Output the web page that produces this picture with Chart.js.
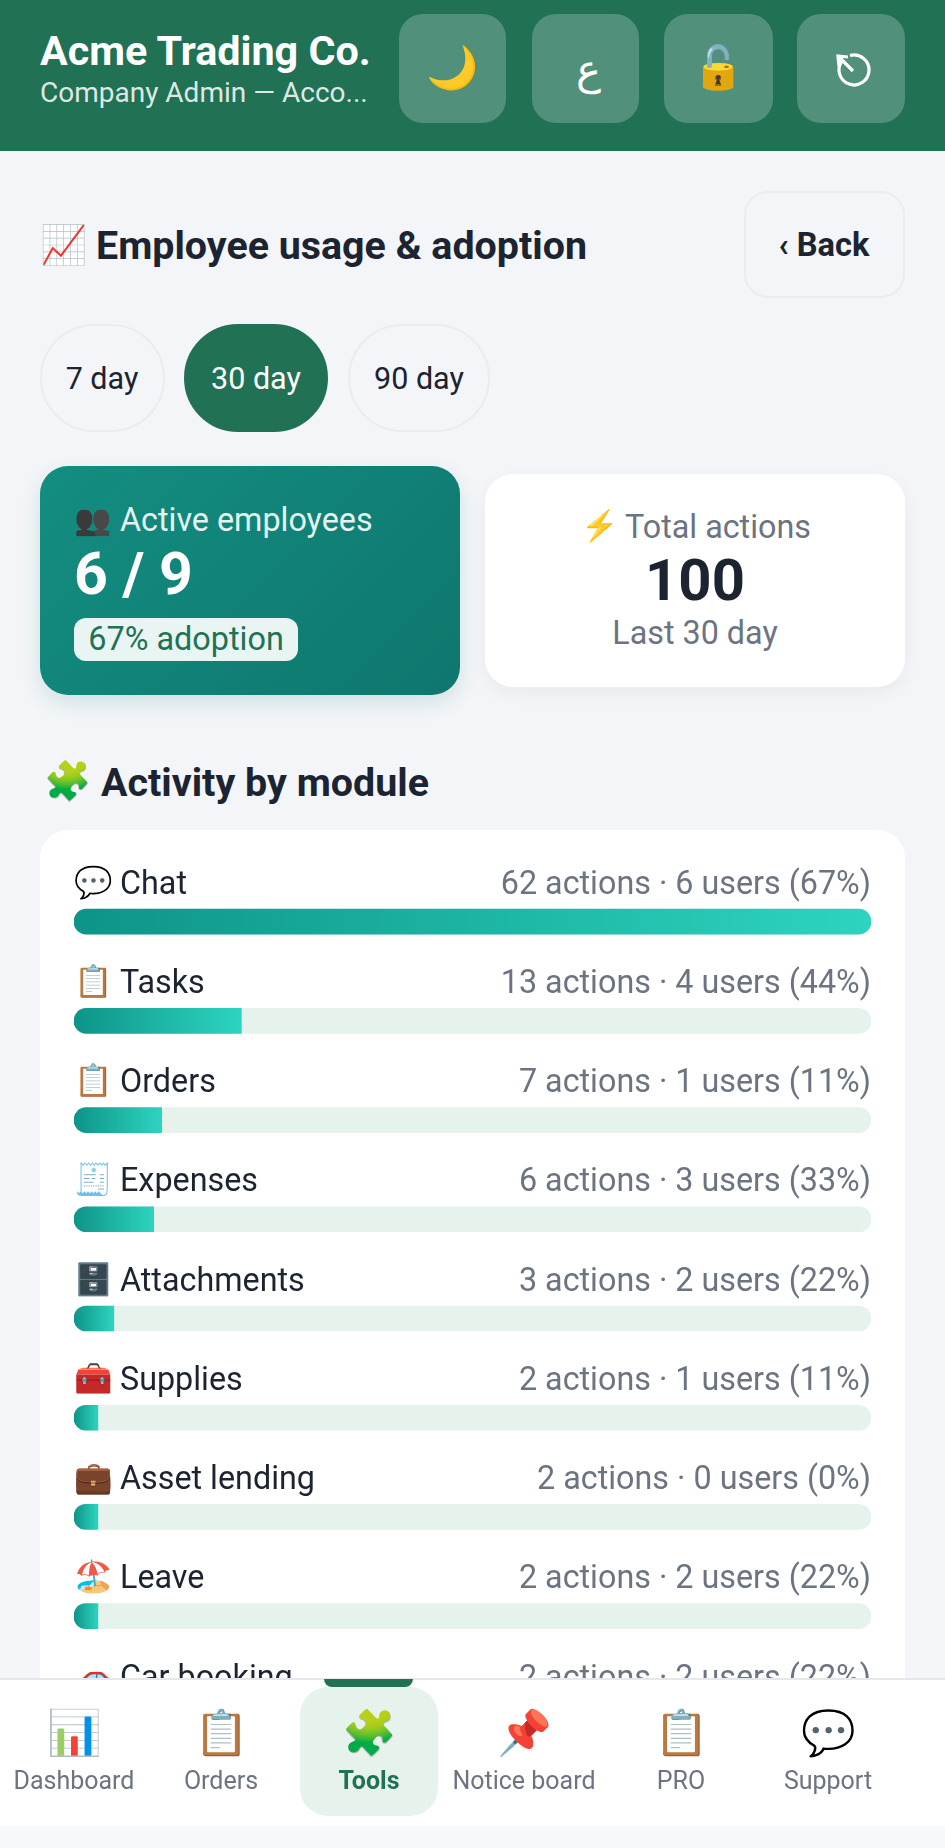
<!DOCTYPE html>
<html><head><meta charset="utf-8">
<script src="https://cdn.jsdelivr.net/npm/chart.js@4"></script>
<style>
html,body{margin:0;padding:0;width:945px;height:1848px;overflow:hidden;background:#f3f5f8;font-family:Roboto,sans-serif;color:#1b2430}
.a{position:absolute}
.t{position:absolute;white-space:nowrap;transform:translateY(-50%);line-height:1.2}
.c{transform:translate(-50%,-50%)}
#hdr{left:0;top:0;width:945px;height:151px;background:#217155}
.hb{top:14px;height:109px;border-radius:24px;background:rgba(255,255,255,.22)}
.pill{top:324px;height:108px;border-radius:54px;box-sizing:border-box;border:2px solid #eaecf0}
#nav{left:0;top:1678px;width:945px;height:148px;background:#fff;border-top:2px solid #e5e7eb;box-sizing:border-box;z-index:5}
#navb{left:0;top:1826px;width:945px;height:22px;background:#f7f8fa;z-index:5}
.z{z-index:6}
#wrap{left:40px;top:852px;width:865px;height:913px}
#cv{display:block}
#card{left:40px;top:830px;width:865px;height:940px;background:#fff;border-radius:28px}
</style></head><body>
<div class="a" id="hdr"></div>
<div class="a hb" style="left:399px;width:107px"></div>
<div class="a hb" style="left:532px;width:107px"></div>
<div class="a hb" style="left:664px;width:109px"></div>
<div class="a hb" style="left:797px;width:108px"></div>
<div class="t" style="left:40px;top:52px;font-size:41.3px;font-weight:700;color:#fff">Acme Trading Co.</div>
<div class="t" style="left:40px;top:93px;font-size:28px;color:rgba(255,255,255,.85)">Company Admin — Acco...</div>
<div class="t c" style="left:452px;top:68px;font-size:42px">🌙</div>
<div class="t c" style="left:588px;top:70px;font-size:42px;color:#fff">ع</div>
<div class="t c" style="left:718px;top:68px;font-size:42px">🔓</div>
<svg class="a" style="left:831px;top:49px" width="42" height="42" viewBox="0 0 42 42" fill="none" stroke="#fff" stroke-width="3.2"><path d="M11 12 A15 15 0 1 0 19 6.5"/><path d="M22 22 L8 8 M8 17 L7 7 L17 8" /></svg>

<div class="t" style="left:40px;top:246px;font-size:38px">📈</div>
<div class="t" style="left:96px;top:246px;font-size:39.4px;font-weight:700">Employee usage &amp; adoption</div>
<div class="a" style="left:744px;top:191px;width:161px;height:107px;box-sizing:border-box;border:2px solid #eaecf0;border-radius:24px"></div>
<div class="t c" style="left:824px;top:246px;font-size:32.6px;font-weight:700">‹ Back</div>

<div class="a pill" style="left:40px;width:125px"></div>
<div class="a pill" style="left:184px;width:144px;background:#217155;border-color:#217155"></div>
<div class="a pill" style="left:348px;width:142px"></div>
<div class="t c" style="left:102px;top:379px;font-size:30.5px">7 day</div>
<div class="t c" style="left:256px;top:379px;font-size:30.5px;color:#fff">30 day</div>
<div class="t c" style="left:419px;top:379px;font-size:30.5px">90 day</div>

<div class="a" style="left:40px;top:466px;width:420px;height:229px;border-radius:28px;background:linear-gradient(135deg,#138e80,#0f766e);box-shadow:0 8px 20px rgba(15,118,110,.15)"></div>
<div class="t" style="left:74px;top:520px;font-size:30px;filter:grayscale(1) brightness(.55)">👥</div>
<div class="t" style="left:120px;top:520px;font-size:32.3px;color:#e3f3ef">Active employees</div>
<div class="t" style="left:74px;top:574px;font-size:59px;font-weight:700;color:#fff">6 / 9</div>
<div class="a" style="left:74px;top:618px;width:224px;height:43px;border-radius:12px;background:#e9f5f2"></div>
<div class="t c" style="left:186px;top:639px;font-size:32.4px;color:#217155">67% adoption</div>
<div class="a" style="left:485px;top:474px;width:420px;height:213px;border-radius:28px;background:#fff;box-shadow:0 6px 18px rgba(20,30,50,.05)"></div>
<div class="t" style="left:581px;top:526px;font-size:30px">⚡</div>
<div class="t" style="left:625px;top:527px;font-size:32.3px;color:#6b7480">Total actions</div>
<div class="t c" style="left:695px;top:581px;font-size:58px;font-weight:700">100</div>
<div class="t c" style="left:695px;top:633px;font-size:32.3px;color:#6b7480">Last 30 day</div>

<div class="t" style="left:44px;top:782px;font-size:38px">🧩</div>
<div class="t" style="left:101px;top:783px;font-size:39.4px;font-weight:700">Activity by module</div>
<div class="a" id="card"></div>
<div class="a" id="wrap"><canvas id="cv" width="865" height="913"></canvas></div>
<div id="labels"></div>

<div class="a" id="nav"></div><div class="a" id="navb"></div>
<div class="a z" style="left:300px;top:1687px;width:138px;height:129px;border-radius:28px;background:#e6f2ec"></div>
<div class="a z" style="left:324px;top:1679px;width:89px;height:8px;border-radius:0 0 8px 8px;background:#217155"></div>
<div id="navitems"></div>

<script>
const categories=["Chat","Tasks","Orders","Expenses","Attachments","Supplies","Asset lending","Leave","Car booking"];
const icons=["💬","📋","📋","🧾","🗄️","🧰","💼","🏖️","🚗"];
const actions=[62,13,7,6,3,2,2,2,2];
const users=[6,4,1,3,2,1,0,2,2];
const userPct=[67,44,11,33,22,11,0,22,22];
const barPercent=[100,21,11,10,5,3,3,3,3];
const trackPercent=[100,100,100,100,100,100,100,100,100];
const navLabels=["Dashboard","Orders","Tools","Notice board","PRO","Support"];
const navIcons=["📊","📋","🧩","📌","📋","💬"];
const navCenters=[74,221,369,524,681,828];

const fill=(c)=>{
  const ch=c.chart,x=ch.scales.x;
  const a=x&&x.getPixelForValue(0),b=x&&x.getPixelForValue(c.raw||0);
  if(!Number.isFinite(a)||!Number.isFinite(b)||a===b) return '#0d9488';
  const g=ch.ctx.createLinearGradient(a,0,b,0);
  g.addColorStop(0,'#0d9488');g.addColorStop(1,'#2dd4bf');return g;
};
const chart=new Chart(document.getElementById('cv'),{
  type:'bar',
  data:{labels:categories,datasets:[
    {label:'Share',data:barPercent,backgroundColor:fill,barThickness:25,order:1,grouped:false,borderSkipped:false,
     borderRadius:c=>c.raw>=100?12.5:{topLeft:12.5,bottomLeft:12.5,topRight:0,bottomRight:0}},
    {label:'Track',data:trackPercent,backgroundColor:'#e6f2ec',barThickness:25,order:2,grouped:false,borderSkipped:false,borderRadius:12.5}
  ]},
  options:{indexAxis:'y',responsive:false,animation:false,maintainAspectRatio:false,devicePixelRatio:1,
    layout:{padding:{left:34,right:34,top:20,bottom:0}},
    plugins:{legend:{display:false},tooltip:{enabled:false}},
    scales:{x:{display:false,min:0,max:100},y:{display:false}}}
});
chart.update();
const L=document.getElementById('labels'),top0=852,left0=40;
function add(html,css,cls){const d=document.createElement('div');d.className='t '+(cls||'');d.style.cssText=css;d.innerHTML=html;L.appendChild(d);}
categories.forEach((n,i)=>{
  const y=top0+chart.scales.y.getPixelForValue(i)-38.8;
  const xl=left0+chart.scales.x.getPixelForValue(0);
  const xr=945-(left0+chart.scales.x.getPixelForValue(100));
  add(icons[i],`left:${xl}px;top:${y}px;font-size:31px`);
  add(n,`left:${xl+46}px;top:${y}px;font-size:32.3px;color:#1b2430`);
  add(`${actions[i]} actions · ${users[i]} users (${userPct[i]}%)`,`right:${xr}px;top:${y}px;font-size:32.3px;color:#6b7480`);
});
const N=document.getElementById('navitems');
navLabels.forEach((n,i)=>{
  const d=document.createElement('div');d.className='t c z';d.style.cssText=`left:${navCenters[i]}px;top:1733px;font-size:44px`;d.textContent=navIcons[i];N.appendChild(d);
  const e=document.createElement('div');e.className='t c z';e.style.cssText=`left:${navCenters[i]}px;top:1781px;font-size:25px;color:${i==2?'#217155':'#6b7480'};font-weight:${i==2?700:400}`;e.textContent=n;N.appendChild(e);
});
</script>
</body></html>
